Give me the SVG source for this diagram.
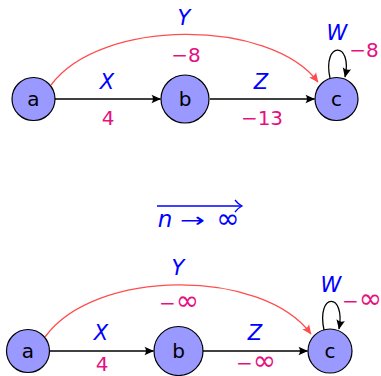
<svg xmlns="http://www.w3.org/2000/svg" width="381" height="376" viewBox="0 0 381 376">
<defs>
<marker id="ah" viewBox="-10 -5 11 10" refX="0" refY="0" markerWidth="11" markerHeight="10" orient="auto" markerUnits="userSpaceOnUse">
<path d="M0.5,0 L-9,-4.3 Q-6,0 -9,4.3 Z" fill="#000"/>
</marker>
<marker id="ahr" viewBox="-10 -5 11 10" refX="0" refY="0" markerWidth="11" markerHeight="10" orient="auto" markerUnits="userSpaceOnUse">
<path d="M0.5,0 L-9,-4.3 Q-6,0 -9,4.3 Z" fill="#ff4d4d"/>
</marker>
</defs>
<style>
.node circle{fill:#9999ff;stroke:#000;stroke-width:1.2}
.node text{font-family:"DejaVu Sans",sans-serif;font-size:20px;fill:#000;text-anchor:middle}
.e{fill:none;stroke:#000;stroke-width:1.3;marker-end:url(#ah)}
.r{fill:none;stroke:#ff4d4d;stroke-width:1.3;marker-end:url(#ahr)}
.lb{font-family:"DejaVu Sans",sans-serif;font-style:italic;font-size:21px;fill:#0000ff;text-anchor:middle}
.lm{font-family:"DejaVu Sans",sans-serif;font-size:20px;fill:#e6107f;text-anchor:middle}
.inf{font-size:28px}
</style>
<g id="connectors">
<path class="e" d="M55 99 L160.5 99"/>
<path class="e" d="M210 99 L314.5 99"/>
<path class="r" d="M51 85 C100 18, 270 18, 318 82"/>
<path class="e" d="M330 78 C322 41, 353 41, 345 77"/>
<path class="e" d="M50 351 L153.5 351"/>
<path class="e" d="M203 351 L307.5 351"/>
<path class="r" d="M45 337 C95 268, 262 268, 311 334"/>
<path class="e" d="M324 330 C316 292, 346 292, 339 329"/>
</g>
<g id="labels">
<text class="lb" x="184" y="25">Y</text>
<text class="lm" x="186" y="62">−8</text>
<text class="lb" x="107" y="89">X</text>
<text class="lm" x="108" y="125">4</text>
<text class="lb" x="261" y="89">Z</text>
<text class="lm" x="262" y="125">−13</text>
<text class="lb" x="337" y="40">W</text>
<text class="lm" x="364" y="57">−8</text>
<text class="lb" x="178" y="275">Y</text>
<text class="lm" x="179" y="310">−<tspan class="inf">∞</tspan></text>
<text class="lb" x="101" y="340">X</text>
<text class="lm" x="102" y="371">4</text>
<text class="lb" x="255" y="340">Z</text>
<text class="lm" x="256" y="370">−<tspan class="inf">∞</tspan></text>
<text class="lb" x="331" y="292">W</text>
<text class="lm" x="342" y="308" style="text-anchor:start">−<tspan class="inf">∞</tspan></text>
</g>
<g id="limit">
<line x1="157" y1="206" x2="241" y2="206" stroke="#0000ff" stroke-width="1.3"/>
<path d="M235 200 Q238 204 242 206 Q238 208 235 212" fill="none" stroke="#0000ff" stroke-width="1.3"/>
<text x="165" y="227" style="font-family:'DejaVu Sans',sans-serif;font-style:italic;font-size:23px;fill:#0000ff;text-anchor:middle">n</text>
<text x="180" y="227" textLength="25" lengthAdjust="spacingAndGlyphs" style="font-family:'DejaVu Sans',sans-serif;font-size:20px;fill:#0000ff">→</text>
<text x="228" y="228" style="font-family:'DejaVu Sans',sans-serif;font-size:28px;fill:#0000ff;text-anchor:middle">∞</text>
</g>
<g id="node-a1" class="node"><circle cx="33.5" cy="99" r="21.5"/><text x="33.5" y="106">a</text></g>
<g id="node-b1" class="node"><circle cx="185" cy="99" r="24"/><text x="185" y="106">b</text></g>
<g id="node-c1" class="node"><circle cx="336.5" cy="99" r="21.5"/><text x="336.5" y="106">c</text></g>
<g id="node-a2" class="node"><circle cx="28" cy="351" r="21.5"/><text x="28" y="358">a</text></g>
<g id="node-b2" class="node"><circle cx="178.5" cy="351" r="24.5"/><text x="178.5" y="358">b</text></g>
<g id="node-c2" class="node"><circle cx="330" cy="351" r="22"/><text x="330" y="358">c</text></g>
</svg>
